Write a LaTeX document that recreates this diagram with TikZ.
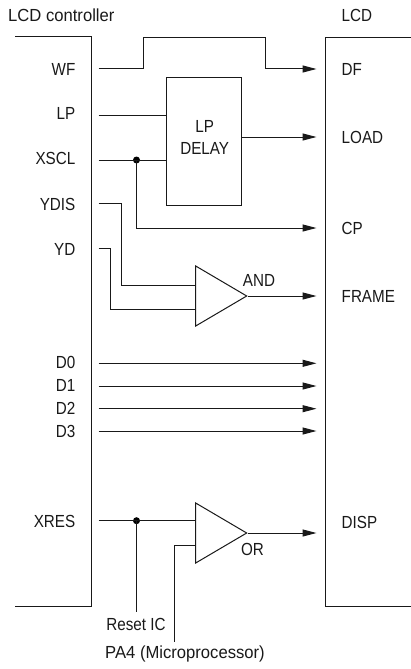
\documentclass[tikz,border=0pt]{standalone}
\usepackage{fontspec}
\setmainfont[FakeStretch=0.87]{Liberation Sans}
\newfontfamily\widefont[FakeStretch=0.95]{Liberation Sans}
\usetikzlibrary{arrows.meta,shapes.geometric}

\tikzset{
  wire/.style={black!90, line width=1pt},
  sig/.style={wire, -{Triangle[length=14pt,width=7pt]}},
  txt/.style={font=\fontsize{17.5}{19}\selectfont, inner sep=0pt, text=black!90},
  pinl/.style={txt, anchor=east},
  pinr/.style={txt, anchor=west},
  gate/.style={draw=black!90, line width=1pt, isosceles triangle, isosceles triangle stretches,
    minimum width=60pt, minimum height=51pt, inner sep=0pt, anchor=apex},
  junction/.style={circle, fill=black, inner sep=0pt, minimum size=7pt}
}

\begin{document}
\begin{tikzpicture}[x=1pt,y=-1pt]

\useasboundingbox (0,0) rectangle (411,669);

% Titles
\node[txt, anchor=west] (ctrltitle) at (8,15) {\widefont LCD controller};
\node[pinr] (lcdtitle) at (341.5,15) {LCD};

% Chip outlines
\draw[wire] (15,36.7) -- (91,36.7) -- (91,606) -- (15,606);
\draw[wire] (411,37.5) -- (325,37.5) -- (325,606.5) -- (411,606.5);

% Controller pins
\foreach \y/\name in {69/WF, 113/LP, 158/XSCL, 204/YDIS, 249/YD, 362/D0, 385/D1, 408/D2, 431/D3, 521/XRES} {
    \node[pinl] (\name) at (75.5,\y) {\name};
}

% LCD pins
\foreach \y/\name in {69.5/DF, 137/LOAD, 228/CP, 296/FRAME, 522/DISP} {
    \node[pinr] (\name) at (341.5,\y) {\name};
}

% Wire ends
\foreach \y/\name in {69/WF, 115/LP, 160/XSCL, 203/YDIS, 248/YD, 363.3/D0, 386/D1, 408.7/D2, 431/D3, 520.7/XRES} {
    \coordinate (out\name) at (98.7,\y);
}
\foreach \y/\name in {69/DF, 137/LOAD, 228/CP, 296/FRAME, 533/DISP, 363.3/D0, 386/D1, 408.7/D2, 431/D3} {
    \coordinate (in\name) at (316.5,\y);
}

% LP delay
\node[draw=black!90, line width=1pt, minimum width=75pt, minimum height=128pt, inner sep=0pt] (delay) at (204.2,141.5) {};
\node[txt] (delaya) at (204.7,126) {LP};
\node[txt] (delayb) at (204.7,148) {DELAY};
\coordinate (delayLP) at (166.7,115);
\coordinate (delayX) at (166.7,160);
\coordinate (delayO) at (241.7,137);

% Gates
\node[gate] (andg) at (248,296) {};
\node[gate] (org) at (248,533) {};
\node[txt] (andl) at (259,280) {AND};
\node[txt] (orl) at (252.5,549.5) {OR};
\coordinate (anda) at (195,285);
\coordinate (andb) at (195,309);
\coordinate (ora) at (195,520.7);
\coordinate (orb) at (195,545);

% Junctions
\node[junction] (xdot) at (136.5,160) {};
\node[junction] (rdot) at (136.5,520.7) {};

% Bottom labels
\node[txt] (reset) at (136,624) {Reset IC};
\node[txt] (pa) at (185,654) {\widefont PA4 (Microprocessor)};
\coordinate (resetT) at (136.5,612);
\coordinate (paT) at (174.5,641.7);

% Signals
\draw[sig] (outWF) -- (143.5,69) -- (143.5,37.5) -- (265,37.5) -- (265,69) -- (inDF);
\draw[wire] (outLP) -- (delayLP);
\draw[wire] (outXSCL) -- (delayX);
\draw[sig] (delayO) -- (inLOAD);
\draw[sig] (xdot.center) |- (inCP);
\draw[wire] (outYDIS) -- (121,203) |- (anda);
\draw[wire] (outYD) -- (110,248) |- (andb);
\draw[sig] (andg.apex) -- (inFRAME);

\foreach \name in {D0,D1,D2,D3} {
    \draw[sig] (out\name) -- (in\name);
}

\draw[wire] (outXRES) -- (ora);
\draw[wire] (rdot.center) -- (resetT);
\draw[wire] (orb) -| (paT);
\draw[sig] (org.apex) -- (inDISP);

\end{tikzpicture}
\end{document}
